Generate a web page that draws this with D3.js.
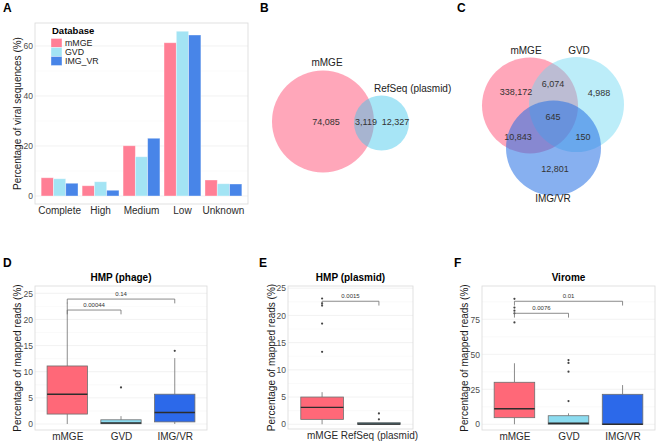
<!DOCTYPE html>
<html>
<head>
<meta charset="utf-8">
<script src="https://cdn.jsdelivr.net/npm/d3@7"></script>
<style>
  body { margin: 0; background: #fff; }
  svg { font-family: "Liberation Sans", Arial, sans-serif; }
  .grid-major { stroke: #ececec; stroke-width: 0.7; }
  .grid-minor { stroke: #f5f5f5; stroke-width: 0.5; }
  .frame { fill: none; stroke: #d9d9d9; stroke-width: 0.8; }
  .y-axis .tick text { fill: #4d4d4d; }
  .x-axis .tick text { fill: #2b2b2b; }
  .venn-num { fill: #333; font-size: 9px; text-anchor: middle; dominant-baseline: central; }
  .venn-label { fill: #222; font-size: 10px; }
</style>
</head>
<body>
<svg width="656" height="443"></svg>
<script>
// ---- data: panel A (checkV quality, % of viral sequences)
const qualityLevels = ['Complete', 'High', 'Medium', 'Low', 'Unknown']
const databases = ['mMGE', 'GVD', 'IMG_VR']
const mmgeShare = [7.3, 4.1, 20.1, 61.3, 6.4]
const gvdShare = [6.9, 5.7, 15.7, 65.9, 4.9]
const imgvrShare = [5.1, 2.3, 23.1, 64.4, 4.8]
const shareTicks = [0, 20, 40, 60]

// ---- data: panel B / C (venn counts)
const vennBSets = ['mMGE', 'RefSeq (plasmid)']
const vennBCounts = ['74,085', '3,119', '12,327']
const vennCSets = ['mMGE', 'GVD', 'IMG/VR']
const vennCCounts = ['338,172', '6,074', '4,988', '645', '10,843', '150', '12,801']

// ---- data: panels D-F (box summaries: min, q1, median, q3, max)
const phageGroups = ['mMGE', 'GVD', 'IMG/VR']
const phageStats = [[0, 1.9, 5.7, 11.1, 23.2], [0, 0.05, 0.2, 0.8, 1.5], [0, 0.4, 2.2, 5.7, 12.6]]
const phageOutliers = [[], [7.0], [14.0]]
const phageTests = [['mMGE', 'GVD', '0.00044', 21.8], ['mMGE', 'IMG/VR', '0.14', 23.9]]
const phageTicks = [0, 5, 10, 15, 20, 25]

const plasmidGroups = ['mMGE', 'RefSeq (plasmid)']
const plasmidStats = [[0, 0.9, 3.1, 5.0, 5.9], [0, 0, 0.05, 0.3, 0.3]]
const plasmidOutliers = [[13.3, 18.5, 21.8, 22.2, 23.1], [0.9, 2.0]]
const plasmidTests = [['mMGE', 'RefSeq (plasmid)', '0.0015', 22.6]]
const plasmidTicks = [0, 5, 10, 15, 20, 25]

const viromeGroups = ['mMGE', 'GVD', 'IMG/VR']
const viromeStats = [[0, 4.7, 11.1, 30.0, 43.6], [0, 0, 0.7, 6.1, 7.8], [0, 0, 0, 21.4, 28.0]]
const viromeOutliers = [[72.8, 79.3, 81.2, 83.4, 89.6], [16.6, 37.6, 43.8, 45.9], []]
const viromeTests = [['mMGE', 'GVD', '0.0076', 79.3], ['mMGE', 'IMG/VR', '0.01', 87.9]]
const viromeTicks = [0, 25, 50, 75]

const barColors = { mMGE: '#FF7F95', GVD: '#A3E4F4', IMG_VR: '#4885E8' }
const boxColors = { 'mMGE': '#FF6878', 'GVD': '#8CDCF0', 'IMG/VR': '#2C69EA', 'RefSeq (plasmid)': '#8CDCF0' }

const svg = d3.select('svg')

function panelLetter(x, y, t) {
  svg.append('text').attr('x', x).attr('y', y)
    .attr('font-size', 12).attr('font-weight', 'bold').text(t)
}

function grid(g, yScale, x0, x1, major, minor) {
  g.selectAll(null).data(minor).join('line').classed('grid-minor', true)
    .attr('x1', x0).attr('x2', x1).attr('y1', d => yScale(d)).attr('y2', d => yScale(d))
  g.selectAll(null).data(major).join('line').classed('grid-major', true)
    .attr('x1', x0).attr('x2', x1).attr('y1', d => yScale(d)).attr('y2', d => yScale(d))
}

function axes(g, box, xScale, yScale, ticks, xFont) {
  g.append('g').classed('y-axis', true)
    .attr('transform', `translate(${ box.left },0)`)
    .call(d3.axisLeft(yScale).tickValues(ticks).tickSize(0).tickPadding(2))
    .call(a => a.select('.domain').remove())
    .selectAll('text').attr('font-size', 8.5)
  g.append('g').classed('x-axis', true)
    .attr('transform', `translate(0,${ box.bottom })`)
    .call(d3.axisBottom(xScale).tickSize(0).tickPadding(2.5))
    .call(a => a.select('.domain').remove())
    .selectAll('text').attr('font-size', xFont)
  g.append('rect').classed('frame', true)
    .attr('x', box.left).attr('y', box.top)
    .attr('width', box.right - box.left).attr('height', box.bottom - box.top)
}

function yLabel(x, box, t) {
  svg.append('text')
    .attr('transform', `translate(${ x },${ (box.top + box.bottom) / 2 }) rotate(-90)`)
    .attr('text-anchor', 'middle').attr('font-size', 10).attr('fill', '#1a1a1a')
    .text(t)
}

// ================= A: grouped bars
panelLetter(3, 12, 'A')
const boxA = { left: 35, right: 248, top: 23, bottom: 204 }
const xA = d3.scaleBand(qualityLevels, [boxA.left, boxA.right]).paddingInner(0.1).paddingOuter(0.15)
const xSubA = d3.scaleBand(databases, [0, xA.bandwidth()])
const yA = d3.scaleLinear([-3.2, 69.2], [boxA.bottom, boxA.top])
const gA = svg.append('g')
grid(gA, yA, boxA.left, boxA.right, shareTicks, [10, 30, 50])

const shareByDb = { mMGE: mmgeShare, GVD: gvdShare, IMG_VR: imgvrShare }
const barRows = qualityLevels.flatMap((q, i) => databases.map(db => ({ q, db, v: shareByDb[db][i] })))
gA.selectAll('rect.bar').data(barRows).join('rect').classed('bar', true)
  .attr('x', d => xA(d.q) + xSubA(d.db))
  .attr('width', xSubA.bandwidth())
  .attr('y', d => yA(d.v))
  .attr('height', d => yA(0) - yA(d.v))
  .attr('fill', d => barColors[d.db])
  .attr('stroke', '#fff').attr('stroke-opacity', 0.45).attr('stroke-width', 0.8)
axes(gA, boxA, xA, yA, shareTicks, 10)
yLabel(20.5, boxA, 'Percentage of viral sequences (%)')

// legend
const legA = svg.append('g').attr('transform', 'translate(51,30)')
legA.append('text').attr('x', 1).attr('y', 4).attr('font-size', 9.5).attr('font-weight', 'bold').text('Database')
const legRows = legA.selectAll('g').data(databases).join('g')
  .attr('transform', (d, i) => `translate(0,${ 8.5 + i * 9 })`)
legRows.append('rect').attr('width', 11).attr('height', 9).attr('fill', d => barColors[d])
  .attr('stroke', '#fff').attr('stroke-opacity', 0.45).attr('stroke-width', 0.8)
legRows.append('text').attr('x', 14).attr('y', 7.8).attr('font-size', 8.8).attr('fill', '#222').text(d => d)

// ================= B: two-set venn
panelLetter(260, 12, 'B')
const gB = svg.append('g')
const vennB = [
  { cx: 323, cy: 121.5, r: 51, fill: '#FF4F75', op: 0.5 },
  { cx: 381.5, cy: 123, r: 27.5, fill: '#3CC6EC', op: 0.45 },
]
gB.selectAll('circle').data(vennB).join('circle')
  .attr('cx', d => d.cx).attr('cy', d => d.cy).attr('r', d => d.r)
  .attr('fill', d => d.fill).attr('fill-opacity', d => d.op)
gB.append('text').classed('venn-label', true).attr('x', 327).attr('y', 66).attr('text-anchor', 'middle').text(vennBSets[0])
gB.append('text').classed('venn-label', true).attr('x', 374).attr('y', 92).text(vennBSets[1])
const vennBPos = [[326, 122], [366, 122], [395.5, 122]]
gB.selectAll('text.venn-num').data(vennBCounts).join('text').classed('venn-num', true)
  .attr('x', (d, i) => vennBPos[i][0]).attr('y', (d, i) => vennBPos[i][1]).text(d => d)

// ================= C: three-set venn
panelLetter(457, 12, 'C')
const gC = svg.append('g')
const vennC = [
  { cx: 530, cy: 105.5, r: 48, fill: '#FF4F75', op: 0.5 },
  { cx: 576.5, cy: 104.5, r: 47.5, fill: '#6BD8F2', op: 0.45 },
  { cx: 553.5, cy: 148, r: 47.5, fill: '#2470E4', op: 0.55 },
]
gC.selectAll('circle').data(vennC).join('circle')
  .attr('cx', d => d.cx).attr('cy', d => d.cy).attr('r', d => d.r)
  .attr('fill', d => d.fill).attr('fill-opacity', d => d.op)
const vennCLabelPos = [[526, 54], [579, 54], [553, 202]]
gC.selectAll('text.venn-label').data(vennCSets).join('text').classed('venn-label', true)
  .attr('text-anchor', 'middle')
  .attr('x', (d, i) => vennCLabelPos[i][0]).attr('y', (d, i) => vennCLabelPos[i][1]).text(d => d)
const vennCPos = [[516, 92], [553, 84], [599, 93], [553, 117], [518, 137], [583, 137], [555, 169]]
gC.selectAll('text.venn-num').data(vennCCounts).join('text').classed('venn-num', true)
  .attr('x', (d, i) => vennCPos[i][0]).attr('y', (d, i) => vennCPos[i][1]).text(d => d)

// ================= D-F: box plots
function boxPanel({ letter, letterX, title, box, groups, stats, outliers, tests, ticks, yDomain, minor, labelX }) {
  panelLetter(letterX, 267, letter)
  const g = svg.append('g')
  const x = d3.scalePoint(groups, [box.left, box.right]).padding(0.6)
  const y = d3.scaleLinear(yDomain, [box.bottom, box.top])
  const w = x.step() * 0.75
  grid(g, y, box.left, box.right, ticks, minor)

  const rows = groups.map((k, i) => ({ k, s: stats[i], out: outliers[i] }))
  const b = g.selectAll('g.box').data(rows).join('g').classed('box', true)
  b.append('line')
    .attr('x1', d => x(d.k)).attr('x2', d => x(d.k))
    .attr('y1', d => y(d.s[0])).attr('y2', d => y(d.s[1]))
    .attr('stroke', '#6e6e6e').attr('stroke-width', 0.8)
  b.append('line')
    .attr('x1', d => x(d.k)).attr('x2', d => x(d.k))
    .attr('y1', d => y(d.s[3])).attr('y2', d => y(d.s[4]))
    .attr('stroke', '#6e6e6e').attr('stroke-width', 0.8)
  b.append('rect')
    .attr('x', d => x(d.k) - w / 2).attr('width', w)
    .attr('y', d => y(d.s[3])).attr('height', d => Math.max(0.6, y(d.s[1]) - y(d.s[3])))
    .attr('fill', d => boxColors[d.k]).attr('stroke', '#6e6e6e').attr('stroke-width', 0.8)
  b.append('line')
    .attr('x1', d => x(d.k) - w / 2).attr('x2', d => x(d.k) + w / 2)
    .attr('y1', d => y(d.s[2])).attr('y2', d => y(d.s[2]))
    .attr('stroke', '#2d2d2d').attr('stroke-width', 1.4)
  b.selectAll('circle').data(d => d.out.map(v => [d.k, v])).join('circle')
    .attr('cx', d => x(d[0])).attr('cy', d => y(d[1])).attr('r', 1.1).attr('fill', '#444')

  // significance brackets
  const tip = 4.3
  const br = g.selectAll('g.test').data(tests).join('g').classed('test', true)
  br.append('path')
    .attr('d', d => `M${ x(d[0]) },${ y(d[3]) + tip }V${ y(d[3]) }H${ x(d[1]) }V${ y(d[3]) + tip }`)
    .attr('fill', 'none').attr('stroke', '#6e6e6e').attr('stroke-width', 0.8)
  br.append('text')
    .attr('x', d => (x(d[0]) + x(d[1])) / 2).attr('y', d => y(d[3]) - 3)
    .attr('text-anchor', 'middle').attr('font-size', 6).attr('fill', '#333')
    .text(d => d[2])

  axes(g, box, x, y, ticks, 10)
  svg.append('text').attr('x', (box.left + box.right) / 2).attr('y', 281)
    .attr('text-anchor', 'middle').attr('font-size', 10).attr('font-weight', 'bold').text(title)
  yLabel(labelX, box, 'Percentage of mapped reads (%)')
}

boxPanel({
  letter: 'D', letterX: 3, title: 'HMP (phage)',
  box: { left: 35, right: 207, top: 286, bottom: 430 },
  groups: phageGroups, stats: phageStats, outliers: phageOutliers, tests: phageTests,
  ticks: phageTicks, minor: [2.5, 7.5, 12.5, 17.5, 22.5], yDomain: [-1.15, 26.4], labelX: 20.5,
})
boxPanel({
  letter: 'E', letterX: 259, title: 'HMP (plasmid)',
  box: { left: 288, right: 413, top: 286, bottom: 429 },
  groups: plasmidGroups, stats: plasmidStats, outliers: plasmidOutliers, tests: plasmidTests,
  ticks: plasmidTicks, minor: [2.5, 7.5, 12.5, 17.5, 22.5], yDomain: [-0.87, 25.4], labelX: 275,
})
boxPanel({
  letter: 'F', letterX: 454, title: 'Virome',
  box: { left: 482, right: 655, top: 286, bottom: 430 },
  groups: viromeGroups, stats: viromeStats, outliers: viromeOutliers, tests: viromeTests,
  ticks: viromeTicks, minor: [12.5, 37.5, 62.5, 87.5], yDomain: [-4.1, 98.8], labelX: 468,
})
</script>
</body>
</html>
